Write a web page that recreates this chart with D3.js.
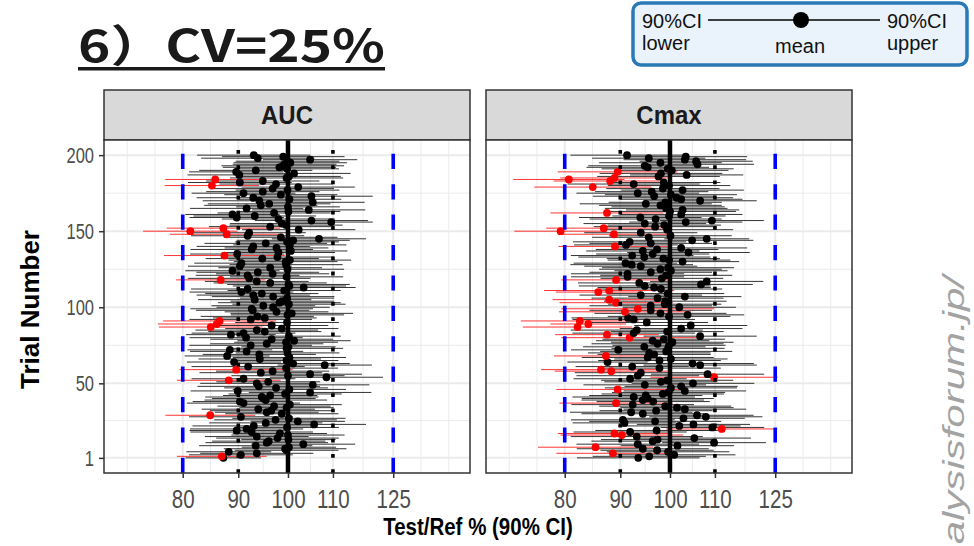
<!DOCTYPE html>
<html><head><meta charset="utf-8">
<script src="https://cdn.jsdelivr.net/npm/d3@7"></script>
<style>body{margin:0;background:#fff} svg{display:block}</style>
</head><body>
<script>
// Simulated BE trials: point estimate (Test/Ref %) and log-scale CI half-width per trial
const panels = ["AUC", "Cmax"];
const xBreaks = [80, 90, 100, 110, 125];
const yBreaks = [1, 50, 100, 150, 200];
const beLimits = [80, 125];
const innerRefs = [90, 110];
const titleText = "6）CV=25%";

const aucMean = [
  87.2, 86.9, 90.5, 93.6, 88.2, 99.7, 99.4, 100.2, 93.4, 103.3,
  95.6, 96.0, 100.1, 97.8, 93.6, 100.0, 98.3, 92.6, 89.7, 91.6,
  99.8, 93.0, 105.7, 95.4, 102.1, 97.4, 100.2, 90.5, 84.8, 98.7,
  95.6, 96.5, 93.9, 99.7, 97.1, 100.4, 91.0, 90.3, 95.4, 95.0,
  94.6, 96.3, 99.4, 104.8, 89.9, 100.3, 97.5, 94.0, 105.4, 93.6,
  95.9, 88.2, 91.0, 108.5, 100.0, 104.8, 94.4, 96.8, 89.6, 99.6,
  91.9, 108.1, 101.1, 89.2, 99.7, 94.2, 100.3, 87.9, 94.1, 99.9,
  91.6, 88.4, 99.7, 100.1, 92.4, 95.6, 99.6, 101.3, 96.6, 91.5,
  100.2, 88.6, 91.0, 95.2, 93.6, 98.7, 84.9, 96.6, 86.0, 99.8,
  86.5, 92.4, 95.2, 93.7, 99.9, 100.8, 97.6, 92.8, 92.6, 96.9,
  94.9, 100.2, 98.2, 98.8, 93.2, 99.8, 96.9, 92.9, 94.6, 90.6,
  99.2, 91.8, 103.4, 100.3, 100.1, 96.3, 93.6, 86.7, 92.1, 99.7,
  91.8, 96.8, 93.8, 88.9, 99.9, 96.3, 90.3, 99.6, 90.6, 99.5,
  100.4, 94.7, 97.8, 87.4, 89.8, 98.0, 100.6, 92.6, 97.6, 92.9,
  100.4, 95.4, 99.8, 101.1, 106.8, 98.5, 91.8, 87.8, 92.1, 81.3,
  102.3, 87.2, 96.3, 99.6, 98.7, 109.6, 105.1, 98.0, 89.7, 93.2,
  88.9, 97.1, 100.1, 104.5, 91.6, 100.0, 94.4, 96.1, 105.4, 94.1,
  100.3, 92.9, 105.1, 98.5, 91.0, 94.8, 99.9, 96.8, 102.2, 85.1,
  97.5, 90.3, 94.8, 85.7, 99.7, 100.2, 90.2, 101.3, 89.6, 93.4,
  99.8, 98.2, 98.9, 99.3, 100.5, 99.9, 104.8, 93.8, 99.0, 93.0
];
const aucHalfWidth = [
  .08, .095, .11, .12, .09, .11, .13, .10, .12, .11,
  .13, .12, .10, .13, .11, .12, .10, .13, .10, .12,
  .11, .13, .11, .12, .10, .13, .12, .11, .095, .12,
  .11, .13, .12, .10, .12, .11, .12, .10, .13, .11,
  .12, .10, .12, .13, .10, .12, .11, .13, .12, .12,
  .11, .11, .11, .12, .12, .11, .13, .12, .12, .11,
  .12, .10, .12, .10, .11, .13, .12, .09, .12, .11,
  .12, .09, .12, .10, .13, .12, .11, .12, .13, .12,
  .11, .095, .11, .12, .13, .12, .11, .12, .125, .11,
  .12, .13, .11, .12, .12, .13, .11, .12, .13, .12,
  .11, .12, .13, .11, .12, .10, .13, .12, .12, .11,
  .12, .12, .11, .12, .13, .12, .11, .095, .13, .12,
  .11, .12, .13, .10, .12, .11, .11, .12, .10, .11,
  .13, .12, .12, .128, .10, .12, .12, .13, .11, .12,
  .12, .13, .11, .12, .10, .12, .12, .12, .12, .10,
  .12, .12, .13, .12, .11, .088, .12, .12, .10, .13,
  .10, .12, .11, .12, .12, .11, .12, .13, .11, .12,
  .11, .12, .13, .12, .11, .12, .11, .13, .12, .10,
  .12, .11, .12, .106, .12, .11, .11, .12, .10, .12,
  .11, .12, .13, .11, .12, .11, .10, .12, .13, .12
];
const cmaxMean = [
  93.5, 95.7, 100.9, 88.6, 99.6, 97.3, 94.4, 85.4, 101.6, 93.4,
  109.8, 96.4, 97.4, 105.3, 93.2, 90.3, 88.9, 91.9, 97.2, 111.6,
  109.4, 102.0, 105.1, 90.8, 96.9, 90.5, 102.9, 107.9, 105.9, 94.4,
  92.1, 97.1, 103.2, 101.5, 99.0, 92.4, 89.2, 96.5, 94.4, 95.4,
  92.6, 95.0, 98.5, 99.7, 103.2, 89.5, 100.2, 102.4, 94.8, 105.0,
  98.1, 99.4, 91.9, 109.8, 93.4, 108.3, 94.0, 88.3, 86.4, 97.8,
  92.3, 106.6, 104.9, 87.6, 97.8, 100.2, 95.4, 87.3, 96.7, 95.7,
  99.2, 89.6, 99.6, 94.7, 99.8, 97.4, 100.5, 96.4, 98.7, 91.8,
  106.6, 87.5, 92.6, 99.4, 93.2, 102.4, 82.2, 104.5, 84.1, 95.2,
  82.6, 92.6, 91.5, 99.8, 103.8, 98.0, 90.9, 96.0, 93.4, 102.0,
  96.0, 98.9, 89.2, 99.0, 87.9, 97.4, 103.2, 94.0, 99.5, 85.9,
  87.9, 98.1, 96.7, 94.8, 106.8, 93.7, 108.1, 89.2, 98.3, 91.4,
  99.2, 91.4, 96.0, 100.2, 98.0, 99.6, 94.0, 92.2, 91.0, 102.7,
  99.8, 98.6, 94.7, 92.3, 96.4, 104.0, 94.4, 97.3, 102.4, 89.0,
  91.1, 96.0, 91.8, 104.8, 108.1, 95.6, 100.1, 88.8, 94.0, 79.3,
  99.4, 86.9, 96.9, 98.8, 94.8, 103.4, 109.3, 97.0, 93.9, 99.8,
  102.4, 87.5, 100.0, 102.7, 99.2, 99.6, 98.0, 95.0, 99.0, 106.6,
  102.4, 101.4, 96.7, 100.2, 93.4, 96.2, 102.7, 98.5, 84.9, 99.8,
  92.6, 98.7, 88.1, 80.7, 88.9, 97.6, 103.6, 98.1, 89.5, 100.4,
  99.5, 95.4, 94.8, 106.0, 98.0, 105.7, 103.2, 95.6, 103.4, 91.3
];
const cmaxHalfWidth = [
  .13, .12, .13, .12, .13, .12, .14, .122, .12, .13,
  .11, .13, .12, .12, .14, .13, .12, .12, .13, .118,
  .11, .13, .12, .11, .14, .11, .13, .12, .12, .13,
  .13, .12, .13, .12, .14, .13, .12, .12, .13, .14,
  .13, .12, .13, .12, .13, .13, .14, .12, .13, .13,
  .12, .14, .12, .135, .13, .12, .14, .12, .127, .13,
  .12, .12, .13, .085, .13, .12, .14, .11, .12, .13,
  .14, .10, .12, .13, .12, .14, .13, .12, .13, .145,
  .12, .11, .13, .12, .14, .13, .116, .12, .08, .13,
  .125, .13, .12, .13, .12, .14, .14, .13, .162, .12,
  .13, .12, .12, .13, .12, .14, .12, .13, .12, .09,
  .138, .13, .12, .14, .11, .13, .12, .116, .13, .12,
  .14, .12, .13, .12, .13, .14, .12, .13, .11, .12,
  .13, .12, .14, .13, .12, .13, .12, .13, .14, .12,
  .11, .13, .12, .13, .09, .12, .13, .115, .12, .098,
  .14, .122, .13, .12, .13, .12, .11, .14, .13, .12,
  .13, .12, .14, .12, .13, .12, .13, .14, .12, .12,
  .13, .12, .13, .14, .13, .12, .13, .12, .124, .13,
  .14, .12, .12, .118, .115, .13, .12, .13, .127, .12,
  .14, .13, .12, .12, .13, .12, .13, .12, .13, .12
];

const W = 974, H = 546;
const FONT = "'Liberation Sans', Arial, sans-serif";
const svg = d3.select("body").append("svg").attr("width", W).attr("height", H)
  .style("font-family", FONT);

const panelTop = 140, panelBottom = 473, stripTop = 90;
const panelW = 366;
const panelLeft = [104, 486];
const stretch = 1.3; // axis text in this figure is drawn taller than wide

const x = d3.scaleLog().domain([67.7, 147.1]).range([0, panelW]);
const y = d3.scaleLinear().domain([-8.95, 209.95]).range([panelBottom, panelTop]);

// minor grid: midpoints of breaks in log space, extended one step at each end
const lb = xBreaks.map(Math.log);
const step = lb[1] - lb[0];
const ext = [lb[0] - step, ...lb, lb[lb.length - 1] + step];
const xMinor = [];
ext.forEach((v, i) => { xMinor.push(v); if (i < ext.length - 1) xMinor.push((v + ext[i + 1]) / 2); });
const xMinorVals = xMinor.map(Math.exp).filter(v => !xBreaks.some(b => Math.abs(b - v) < 1e-6))
  .filter(v => v > x.domain()[0] && v < x.domain()[1]);
const yMinorVals = d3.range(yBreaks.length - 1).map(i => (yBreaks[i] + yBreaks[i + 1]) / 2);

const series = panels.map((p, k) => ({
  name: p,
  rows: (k === 0 ? aucMean : cmaxMean).map((m, i) => {
    const hw = (k === 0 ? aucHalfWidth : cmaxHalfWidth)[i];
    const lo = m * Math.exp(-hw), hi = m * Math.exp(hw);
    return { trial: i + 1, mean: m, lo, hi, fail: lo < beLimits[0] || hi > beLimits[1] };
  })
}));

series.forEach((s, k) => {
  const g = svg.append("g").attr("transform", `translate(${panelLeft[k]},0)`);

  // strip
  g.append("rect").attr("x", 0).attr("y", stripTop).attr("width", panelW).attr("height", panelTop - stripTop)
    .attr("fill", "#D9D9D9").attr("stroke", "#333").attr("stroke-width", 1.5);
  g.append("text").attr("transform", `translate(${panelW / 2},124) scale(1,1.1)`).attr("text-anchor", "middle")
    .attr("font-size", 24).attr("font-weight", "bold").attr("fill", "#1a1a1a").text(s.name);

  // panel background and grid
  g.append("rect").attr("x", 0).attr("y", panelTop).attr("width", panelW).attr("height", panelBottom - panelTop).attr("fill", "#fff");
  const grid = g.append("g");
  grid.selectAll(".xm").data(xMinorVals).join("line")
    .attr("x1", d => x(d)).attr("x2", d => x(d)).attr("y1", panelTop).attr("y2", panelBottom)
    .attr("stroke", "#EBEBEB").attr("stroke-width", 1);
  grid.selectAll(".ym").data(yMinorVals).join("line")
    .attr("x1", 0).attr("x2", panelW).attr("y1", d => y(d)).attr("y2", d => y(d))
    .attr("stroke", "#EBEBEB").attr("stroke-width", 1);
  grid.selectAll(".xM").data(xBreaks).join("line")
    .attr("x1", d => x(d)).attr("x2", d => x(d)).attr("y1", panelTop).attr("y2", panelBottom)
    .attr("stroke", "#EBEBEB").attr("stroke-width", 2);
  grid.selectAll(".yM").data(yBreaks).join("line")
    .attr("x1", 0).attr("x2", panelW).attr("y1", d => y(d)).attr("y2", d => y(d))
    .attr("stroke", "#EBEBEB").attr("stroke-width", 2);

  // confidence intervals
  g.append("g").selectAll("line").data(s.rows).join("line")
    .attr("x1", d => x(d.lo)).attr("x2", d => x(d.hi))
    .attr("y1", d => y(d.trial)).attr("y2", d => y(d.trial))
    .attr("stroke", d => d.fail ? "#FF0000" : "#000").attr("stroke-width", 0.8);

  // point estimates
  g.append("g").selectAll("circle").data(s.rows).join("circle")
    .attr("cx", d => x(d.mean)).attr("cy", d => y(d.trial)).attr("r", 3.9)
    .attr("fill", d => d.fail ? "#FF0000" : "#000");

  // reference lines (drawn upward from the panel bottom)
  const vl = g.append("g");
  vl.selectAll(".be").data(beLimits).join("line")
    .attr("x1", d => x(d)).attr("x2", d => x(d)).attr("y1", panelBottom).attr("y2", panelTop)
    .attr("stroke", "#0000FF").attr("stroke-width", 3.6).attr("stroke-dasharray", "15.2 15.2");
  vl.selectAll(".in").data(innerRefs).join("line")
    .attr("x1", d => x(d)).attr("x2", d => x(d)).attr("y1", panelBottom).attr("y2", panelTop)
    .attr("stroke", "#000").attr("stroke-width", 3.6).attr("stroke-dasharray", "3.8 11.4");
  vl.append("line").attr("x1", x(100)).attr("x2", x(100)).attr("y1", panelBottom).attr("y2", panelTop)
    .attr("stroke", "#000").attr("stroke-width", 4.5);

  // border
  g.append("rect").attr("x", 0).attr("y", panelTop).attr("width", panelW).attr("height", panelBottom - panelTop)
    .attr("fill", "none").attr("stroke", "#333").attr("stroke-width", 1.5);

  // x axis
  const xa = g.append("g").attr("transform", `translate(0,${panelBottom})`)
    .call(d3.axisBottom(x).tickValues(xBreaks).tickFormat(d3.format("d")).tickSize(5));
  xa.select(".domain").remove();
  xa.selectAll(".tick line").attr("stroke", "#333").attr("stroke-width", 1.5);
  xa.selectAll(".tick text").attr("y", null).attr("dy", null)
    .attr("transform", `translate(0,34.5) scale(1,${stretch})`)
    .attr("fill", "#4D4D4D").attr("font-size", 20.5).attr("font-family", FONT);
});

// y axis (left panel only)
const ya = svg.append("g").attr("transform", `translate(${panelLeft[0]},0)`)
  .call(d3.axisLeft(y).tickValues(yBreaks).tickFormat(d3.format("d")).tickSize(5));
ya.select(".domain").remove();
ya.selectAll(".tick line").attr("stroke", "#333").attr("stroke-width", 1.5);
ya.selectAll(".tick text").attr("x", null).attr("dy", null)
  .attr("transform", `translate(-10,7.5) scale(1,${stretch})`)
  .attr("fill", "#4D4D4D").attr("font-size", 16.5).attr("font-family", FONT);

// axis titles
svg.append("text").attr("transform", `translate(${(panelLeft[0] + panelLeft[1] + panelW) / 2},535) scale(1,1.2)`)
  .attr("text-anchor", "middle").attr("font-size", 20.5).attr("font-weight", "bold").attr("fill", "#000")
  .text("Test/Ref % (90% CI)");
svg.append("text").attr("transform", `translate(39,${(panelTop + panelBottom) / 2 + 3}) rotate(-90)`)
  .attr("text-anchor", "middle").attr("font-size", 26).attr("font-weight", "bold").attr("fill", "#000")
  .text("Trial Number");

// title
svg.append("text").attr("x", 78).attr("y", 62)
  .attr("font-family", "'Noto Sans CJK JP', 'Noto Sans', sans-serif")
  .attr("font-size", 44).attr("font-weight", "bold").attr("fill", "#1a1a1a")
  .attr("textLength", 307).attr("lengthAdjust", "spacingAndGlyphs").text(titleText);
svg.append("rect").attr("x", 78).attr("y", 67).attr("width", 307).attr("height", 3.5).attr("fill", "#1a1a1a");

// legend explaining the glyph
const lg = svg.append("g").style("font-family", FONT);
lg.append("rect").attr("x", 633).attr("y", 3).attr("width", 334).attr("height", 62).attr("rx", 8)
  .attr("fill", "#EAF3FB").attr("stroke", "#2A7AB8").attr("stroke-width", 3.5);
lg.append("line").attr("x1", 708).attr("x2", 880).attr("y1", 20).attr("y2", 20).attr("stroke", "#000").attr("stroke-width", 1.3);
lg.append("circle").attr("cx", 801).attr("cy", 20).attr("r", 8).attr("fill", "#000");
[["90%CI", 642, 28, "start"], ["lower", 642, 50, "start"], ["mean", 800, 53, "middle"],
 ["90%CI", 887, 28, "start"], ["upper", 887, 50, "start"]].forEach(([t, tx, ty, a]) =>
  lg.append("text").attr("x", tx).attr("y", ty).attr("text-anchor", a).attr("font-size", 20).attr("fill", "#111").text(t));

// site mark along the right edge
svg.append("text").attr("transform", "translate(964,276) scale(1,1.4) rotate(-90)").attr("text-anchor", "end")
  .attr("font-size", 30).attr("font-style", "italic").attr("fill", "#A3A3A3")
  .text("https://www.pharma-analysisforum.jp/");
</script>
</body></html>
